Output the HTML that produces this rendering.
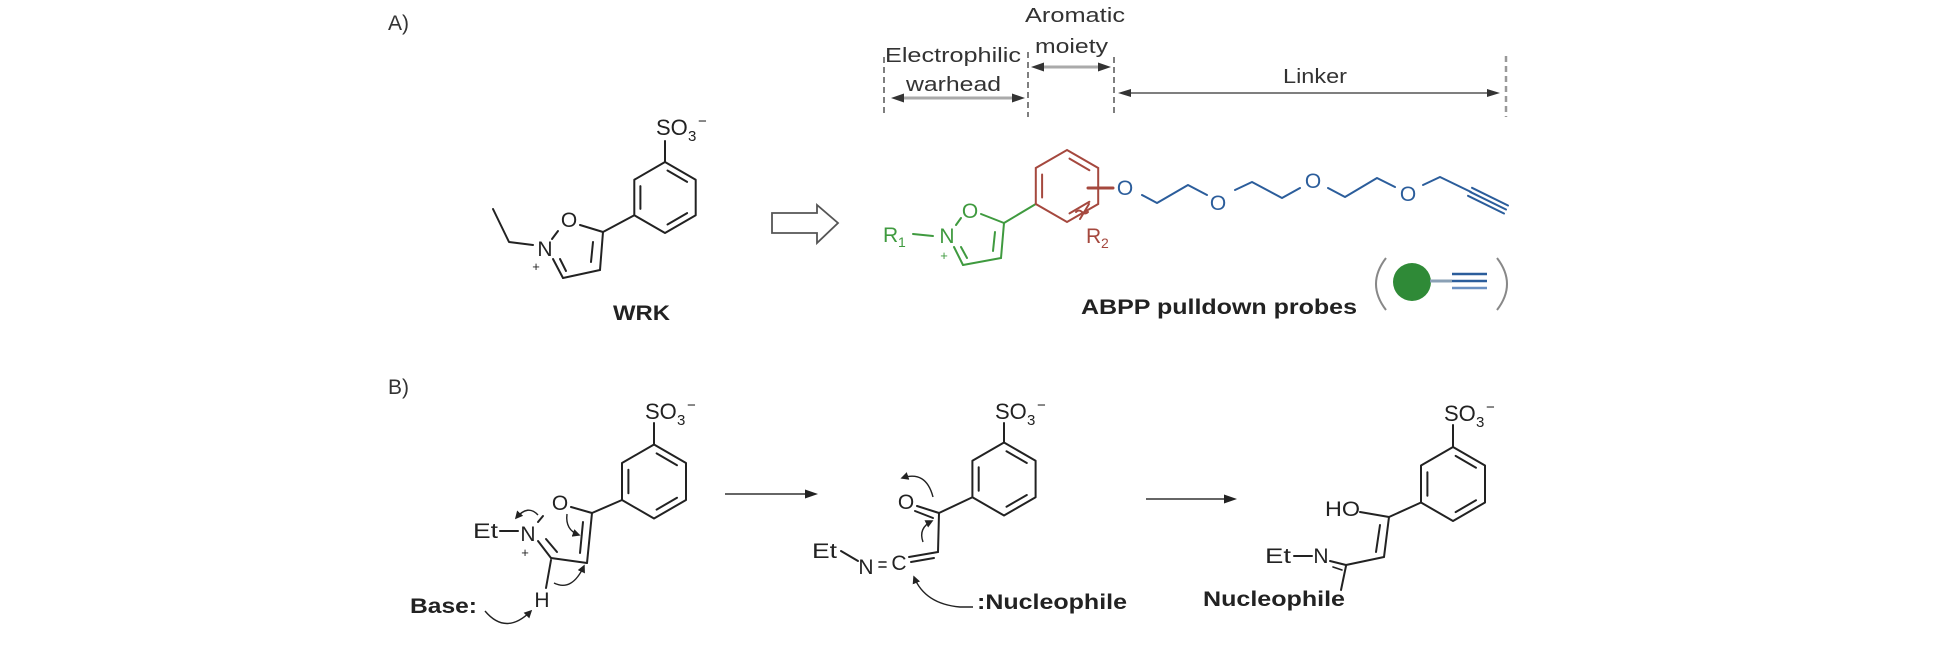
<!DOCTYPE html>
<html><head><meta charset="utf-8">
<style>
html,body{margin:0;padding:0;background:#fff;}
svg{display:block;}
text{font-family:"Liberation Sans",Arial,sans-serif;}
</style></head><body>
<svg width="1934" height="656" viewBox="0 0 1934 656" xmlns="http://www.w3.org/2000/svg">
<defs>
<marker id="ch" viewBox="0 0 10 10" refX="8" refY="5" markerWidth="8" markerHeight="8" markerUnits="userSpaceOnUse" orient="auto"><path d="M0,0 L10,5 L0,10 z" fill="#222"/></marker>
</defs>
<rect width="1934" height="656" fill="#fff"/>

<!-- Section labels -->
<text x="388" y="30" font-size="21" fill="#333">A)</text>
<text x="388" y="394" font-size="21" fill="#333">B)</text>

<!-- ============ Top dimension labels ============ -->
<g fill="#333" font-size="20">
<text x="1025" y="22" textLength="100" lengthAdjust="spacingAndGlyphs">Aromatic</text>
<text x="1035" y="53" textLength="73" lengthAdjust="spacingAndGlyphs">moiety</text>
<text x="885" y="62" textLength="136" lengthAdjust="spacingAndGlyphs">Electrophilic</text>
<text x="906" y="91" textLength="95" lengthAdjust="spacingAndGlyphs">warhead</text>
<text x="1283" y="83" textLength="64" lengthAdjust="spacingAndGlyphs">Linker</text>
</g>
<g stroke-dasharray="6,4" fill="none">
<line x1="884" y1="57" x2="884" y2="117" stroke="#555" stroke-width="1.5"/>
<line x1="1028" y1="52" x2="1028" y2="117" stroke="#555" stroke-width="1.5"/>
<line x1="1114" y1="57" x2="1114" y2="117" stroke="#555" stroke-width="1.5"/>
<line x1="1506" y1="56" x2="1506" y2="117" stroke="#999" stroke-width="2.5"/>
</g>
<line x1="903" y1="98" x2="1013" y2="98" stroke="#aaa" stroke-width="3"/>
<polygon points="891,98 904,93.5 904,102.5" fill="#333"/>
<polygon points="1025,98 1012,93.5 1012,102.5" fill="#333"/>
<line x1="1043" y1="67" x2="1099" y2="67" stroke="#aaa" stroke-width="3"/>
<polygon points="1031,67 1044,62.5 1044,71.5" fill="#333"/>
<polygon points="1111,67 1098,62.5 1098,71.5" fill="#333"/>
<line x1="1128" y1="93" x2="1490" y2="93" stroke="#555" stroke-width="1.6"/>
<polygon points="1118,93 1131,89 1131,97" fill="#333"/>
<polygon points="1500,93 1487,89 1487,97" fill="#333"/>

<!-- ============ WRK ============ -->
<g stroke="#222" stroke-width="2" fill="none" stroke-linecap="round" stroke-linejoin="round">
<polyline points="493,209 509,242 533,245"/>
<line x1="552" y1="239" x2="558" y2="231"/>
<line x1="580" y1="225" x2="603" y2="232"/>
<line x1="603" y1="232" x2="600" y2="270"/>
<line x1="593" y1="242" x2="591" y2="262"/>
<line x1="600" y1="270" x2="563" y2="278"/>
<line x1="563" y1="278" x2="553" y2="259"/>
<line x1="566" y1="271" x2="560" y2="259"/>
<line x1="603" y1="232" x2="634.3" y2="215.3"/>
<polygon points="665,162 695.7,179.8 695.7,215.3 665,233 634.3,215.3 634.3,179.8"/>
<line x1="640.4" y1="186.1" x2="640.4" y2="208.9"/>
<line x1="667.5" y1="170.5" x2="687.1" y2="181.9"/>
<line x1="687.1" y1="213.1" x2="667.5" y2="224.5"/>
<line x1="665" y1="162" x2="665" y2="141"/>
</g>
<g fill="#222">
<text x="545" y="256" font-size="21" text-anchor="middle">N</text>
<text x="536" y="271" font-size="13" text-anchor="middle">+</text>
<text x="569" y="227" font-size="21" text-anchor="middle">O</text>
<text x="656" y="135" font-size="22">SO</text>
<text x="688" y="141" font-size="15">3</text>
<text x="698" y="126" font-size="15">−</text>
<text x="613" y="320" font-size="21" font-weight="bold" textLength="57" lengthAdjust="spacingAndGlyphs">WRK</text>
</g>

<!-- Open arrow -->
<polygon points="772,213 817,213 817,205 838,223 817,243 817,233 772,233" fill="#fff" stroke="#555" stroke-width="1.8" stroke-linejoin="miter"/>

<!-- ============ Probe ============ -->
<!-- green isoxazole -->
<g stroke="#3f9a3f" stroke-width="2" fill="none" stroke-linecap="round">
<line x1="913" y1="234" x2="933" y2="236"/>
<line x1="956" y1="225" x2="961" y2="218"/>
<line x1="981" y1="214" x2="1004" y2="223"/>
<line x1="1004" y1="223" x2="1001" y2="258"/>
<line x1="995" y1="232" x2="993" y2="251"/>
<line x1="1001" y1="258" x2="963" y2="265"/>
<line x1="963" y1="265" x2="954" y2="247"/>
<line x1="967" y1="258" x2="961" y2="247"/>
<line x1="1004" y1="223" x2="1035.8" y2="204"/>
</g>
<g fill="#3f9a3f">
<text x="883" y="242" font-size="21">R</text>
<text x="898" y="247" font-size="14">1</text>
<text x="947" y="243" font-size="21" text-anchor="middle">N</text>
<text x="944" y="260" font-size="13" text-anchor="middle">+</text>
<text x="970" y="218" font-size="21" text-anchor="middle">O</text>
</g>
<!-- red phenyl -->
<g stroke="#a5483e" stroke-width="2" fill="none" stroke-linecap="round">
<polygon points="1067,150 1098.2,168 1098.2,204 1067,222 1035.8,204 1035.8,168"/>
<line x1="1042.1" y1="174.5" x2="1042.1" y2="197.5"/>
<line x1="1069.5" y1="158.6" x2="1089.4" y2="170.2"/>
<line x1="1089.4" y1="201.8" x2="1069.5" y2="213.4"/>
<line x1="1088" y1="188" x2="1113" y2="188" stroke-width="3"/>
<line x1="1080" y1="219" x2="1089" y2="204"/>
<path d="M1076,212 q3,-3 6,0 t6,0"/>
</g>
<g fill="#a5483e">
<text x="1086" y="243" font-size="21">R</text>
<text x="1101" y="248" font-size="14">2</text>
</g>
<!-- blue linker -->
<g stroke="#2b5d9b" stroke-width="2" fill="none" stroke-linecap="round" stroke-linejoin="round">
<polyline points="1142,195 1157,203 1188,185 1207,195"/>
<polyline points="1235,190 1252,182 1282,198 1300,188"/>
<polyline points="1328,188 1345,197 1377,178 1395,187"/>
<polyline points="1423,185 1440,177 1471,192"/>
<line x1="1470" y1="191.8" x2="1506" y2="209.5"/>
<line x1="1468" y1="195.8" x2="1504" y2="213.5"/>
<line x1="1472" y1="187.8" x2="1508" y2="205.5"/>
</g>
<g fill="#2b5d9b" font-size="21" text-anchor="middle">
<text x="1125" y="195">O</text>
<text x="1218" y="210">O</text>
<text x="1313" y="188">O</text>
<text x="1408" y="201">O</text>
</g>
<text x="1081" y="314" font-size="21" font-weight="bold" fill="#222" textLength="276" lengthAdjust="spacingAndGlyphs">ABPP pulldown probes</text>
<!-- legend -->
<path d="M1386,258 Q1366,284 1386,310" stroke="#888" stroke-width="2" fill="none"/>
<path d="M1497,258 Q1517,284 1497,310" stroke="#888" stroke-width="2" fill="none"/>
<circle cx="1412" cy="282" r="19" fill="#2f8a37"/>
<line x1="1430" y1="281" x2="1452" y2="281" stroke="#8aa0b5" stroke-width="3"/>
<line x1="1452" y1="274" x2="1487" y2="274" stroke="#2b5d9b" stroke-width="2.5"/>
<line x1="1452" y1="281" x2="1487" y2="281" stroke="#2b5d9b" stroke-width="2.5"/>
<line x1="1452" y1="288" x2="1487" y2="288" stroke="#6a90c2" stroke-width="2.5"/>

<!-- ============ B) left ============ -->
<g stroke="#222" stroke-width="2" fill="none" stroke-linecap="round" stroke-linejoin="round">
<line x1="500" y1="531" x2="518" y2="531"/>
<line x1="538" y1="522" x2="543" y2="516"/>
<line x1="571" y1="507" x2="592" y2="513"/>
<line x1="592" y1="513" x2="587" y2="563"/>
<line x1="583" y1="522" x2="580" y2="553"/>
<line x1="587" y1="563" x2="551" y2="558"/>
<line x1="551" y1="558" x2="538" y2="541"/>
<line x1="557" y1="552" x2="546" y2="539"/>
<line x1="551" y1="560" x2="546" y2="588"/>
<line x1="592" y1="513" x2="622" y2="500"/>
<polygon points="654,444.5 686,463 686,500 654,518.5 622,500 622,463"/>
<line x1="628.4" y1="469.7" x2="628.4" y2="493.3"/>
<line x1="656.6" y1="453.4" x2="677" y2="465.2"/>
<line x1="677" y1="497.8" x2="656.6" y2="509.6"/>
<line x1="654" y1="444.5" x2="654" y2="423"/>
</g>
<g stroke="#222" stroke-width="1.4" fill="none" marker-end="url(#ch)">
<path d="M538,515 Q528,504 516,518"/>
<path d="M567,514 Q565,530 579,535"/>
<path d="M554,583 Q572,592 584,566"/>
<path d="M485,611 Q506,636 531,611"/>
</g>
<g fill="#222">
<text x="473" y="538" font-size="21" textLength="25" lengthAdjust="spacingAndGlyphs">Et</text>
<text x="528" y="541" font-size="21" text-anchor="middle">N</text>
<text x="525" y="557" font-size="13" text-anchor="middle">+</text>
<text x="560" y="510" font-size="21" text-anchor="middle">O</text>
<text x="542" y="607" font-size="21" text-anchor="middle">H</text>
<text x="645" y="419" font-size="22">SO</text>
<text x="677" y="425" font-size="15">3</text>
<text x="687" y="410" font-size="15">−</text>
<text x="410" y="613" font-size="21" font-weight="bold" textLength="67" lengthAdjust="spacingAndGlyphs">Base:</text>
</g>

<!-- arrow 1 -->
<line x1="725" y1="494" x2="807" y2="494" stroke="#333" stroke-width="1.6"/>
<polygon points="818,494 805,489.5 805,498.5" fill="#222"/>

<!-- ============ B) middle ============ -->
<g stroke="#222" stroke-width="2" fill="none" stroke-linecap="round" stroke-linejoin="round">
<line x1="841" y1="551" x2="858" y2="561"/>
<line x1="879" y1="562" x2="886" y2="562" stroke-width="1.6"/>
<line x1="879" y1="567" x2="886" y2="567" stroke-width="1.6"/>
<line x1="909" y1="557" x2="938" y2="552"/>
<line x1="911" y1="562" x2="934" y2="558"/>
<line x1="938" y1="552" x2="939" y2="513"/>
<line x1="917" y1="506" x2="939" y2="513"/>
<line x1="915" y1="511" x2="933" y2="518"/>
<line x1="939" y1="513" x2="972.4" y2="497.25"/>
<polygon points="1004,442.5 1035.6,460.75 1035.6,497.25 1004,515.5 972.4,497.25 972.4,460.75"/>
<line x1="978.7" y1="467.3" x2="978.7" y2="490.7"/>
<line x1="1006.5" y1="451.3" x2="1026.8" y2="463"/>
<line x1="1026.8" y1="495" x2="1006.5" y2="506.7"/>
<line x1="1004" y1="442.5" x2="1004" y2="423"/>
</g>
<g stroke="#222" stroke-width="1.4" fill="none" marker-end="url(#ch)">
<path d="M933,497 Q926,470 902,478"/>
<path d="M923,542 Q918,528 932,521"/>
<path d="M973,607 L960,607 Q925,604 914,577"/>
</g>
<g fill="#222">
<text x="812" y="558" font-size="21" textLength="25" lengthAdjust="spacingAndGlyphs">Et</text>
<text x="866" y="574" font-size="21" text-anchor="middle">N</text>
<text x="899" y="570" font-size="21" text-anchor="middle">C</text>
<text x="906" y="509" font-size="21" text-anchor="middle">O</text>
<text x="995" y="419" font-size="22">SO</text>
<text x="1027" y="425" font-size="15">3</text>
<text x="1037" y="410" font-size="15">−</text>
<text x="977" y="609" font-size="21" font-weight="bold" textLength="150" lengthAdjust="spacingAndGlyphs">:Nucleophile</text>
</g>

<!-- arrow 2 -->
<line x1="1146" y1="499" x2="1226" y2="499" stroke="#333" stroke-width="1.6"/>
<polygon points="1237,499 1224,494.5 1224,503.5" fill="#222"/>

<!-- ============ B) right ============ -->
<g stroke="#222" stroke-width="2" fill="none" stroke-linecap="round" stroke-linejoin="round">
<line x1="1360" y1="512" x2="1389" y2="517"/>
<line x1="1389" y1="517" x2="1421" y2="502.5"/>
<line x1="1389" y1="517" x2="1384" y2="557"/>
<line x1="1380" y1="525" x2="1376" y2="552"/>
<line x1="1384" y1="557" x2="1346" y2="565"/>
<line x1="1294" y1="556" x2="1312" y2="556"/>
<line x1="1330" y1="561" x2="1346" y2="565"/>
<line x1="1333" y1="567" x2="1342" y2="570" stroke-width="1.6"/>
<line x1="1346" y1="566" x2="1341" y2="590"/>
<polygon points="1453,447 1485,465.5 1485,502.5 1453,521 1421,502.5 1421,465.5"/>
<line x1="1427.4" y1="472.2" x2="1427.4" y2="495.8"/>
<line x1="1455.6" y1="455.9" x2="1476" y2="467.7"/>
<line x1="1476" y1="500.3" x2="1455.6" y2="512.1"/>
<line x1="1453" y1="447" x2="1453" y2="425"/>
</g>
<g fill="#222">
<text x="1325" y="516" font-size="21" textLength="35" lengthAdjust="spacingAndGlyphs">HO</text>
<text x="1265" y="563" font-size="21" textLength="26" lengthAdjust="spacingAndGlyphs">Et</text>
<text x="1321" y="563" font-size="21" text-anchor="middle">N</text>
<text x="1444" y="421" font-size="22">SO</text>
<text x="1476" y="427" font-size="15">3</text>
<text x="1486" y="412" font-size="15">−</text>
<text x="1203" y="606" font-size="21" font-weight="bold" textLength="142" lengthAdjust="spacingAndGlyphs">Nucleophile</text>
</g>
</svg>
</body></html>
